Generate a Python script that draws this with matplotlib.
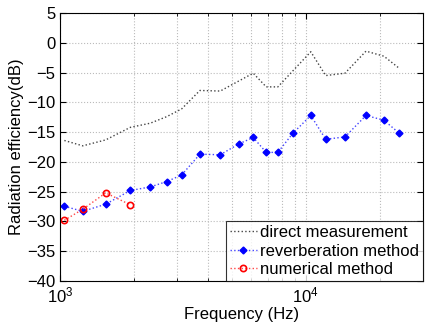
import matplotlib
matplotlib.use("Agg")
import matplotlib.pyplot as plt
from matplotlib.ticker import LogLocator, FixedLocator, NullFormatter

plt.rcParams['font.family'] = ['Liberation Sans', 'DejaVu Sans']
plt.rcParams['mathtext.fontset'] = 'custom'
plt.rcParams['mathtext.rm'] = 'Liberation Sans'
plt.rcParams['mathtext.default'] = 'regular'

# direct measurement (black dotted)
freq_direct = [1041, 1237, 1534, 1931, 2328, 2716, 3124, 3708, 4487, 6110,
               6902, 7697, 10480, 12050, 14440, 17580, 20800, 24040]
eff_direct = [-16.4, -17.3, -16.3, -14.2, -13.5, -12.4, -11.1, -8.0, -8.1, -5.1,
              -7.4, -7.4, -1.5, -5.5, -5.1, -1.4, -2.25, -4.3]

# reverberation method (blue)
freq_rev = [1041, 1237, 1534, 1931, 2328, 2716, 3124, 3708, 4487, 5325,
            6110, 6902, 7697, 8854, 10480, 12050, 14440, 17580, 20800, 24040]
eff_rev = [-27.45, -28.3, -27.1, -24.8, -24.2, -23.3, -22.2, -18.7, -18.8, -17.0,
           -15.9, -18.4, -18.4, -15.2, -12.2, -16.2, -15.8, -12.2, -13.0, -15.2]

# numerical method (red)
freq_num = [1041, 1237, 1534, 1931]
eff_num = [-29.8, -27.95, -25.2, -27.2]

fig = plt.figure(figsize=(4.26, 3.26), dpi=100)
ax = fig.add_axes([0.141, 0.138, 0.852, 0.822])

ax.plot(freq_direct, eff_direct, linestyle=':', color='#444444', lw=1.0,
        label='direct measurement')
ax.plot(freq_rev, eff_rev, linestyle=':', color='#4444ff', lw=1.0, marker='D',
        markersize=3.5, markerfacecolor='blue', markeredgecolor='blue',
        label='reverberation method')
ax.plot(freq_num, eff_num, linestyle=':', color='#ff4444', lw=1.0, marker='o',
        markersize=4.5, markerfacecolor='none', markeredgecolor='red', markeredgewidth=1.2,
        label='numerical method')

ax.set_xscale('log')
ax.set_xlim(1e3, 3e4)
ax.set_ylim(-40, 5)
ax.set_yticks(range(-40, 6, 5))
ax.xaxis.set_major_locator(FixedLocator([1e3, 1e4]))
ax.xaxis.set_minor_locator(LogLocator(base=10, subs=range(2, 10)))
ax.xaxis.set_minor_formatter(NullFormatter())

ax.grid(True, which='both', axis='x', linestyle=':', color='#bbbbbb', lw=0.8)
ax.grid(True, which='major', axis='y', linestyle=':', color='#bbbbbb', lw=0.8)
ax.tick_params(which='both', direction='in', labelsize=12, top=True, right=True)
ax.tick_params(which='major', length=4)
ax.tick_params(which='minor', length=2)

ax.set_xlabel('Frequency (Hz)', fontsize=12, labelpad=1)
ax.set_ylabel('Radiation efficiency(dB)', fontsize=12, labelpad=2)

leg = ax.legend(loc='lower right', fontsize=12, frameon=True, fancybox=False,
                borderaxespad=0, handlelength=1.6, handletextpad=0.2,
                labelspacing=0.2, borderpad=0.25)
leg.get_frame().set_edgecolor('black')
leg.get_frame().set_linewidth(0.8)

fig.savefig('out.png', dpi=100)
